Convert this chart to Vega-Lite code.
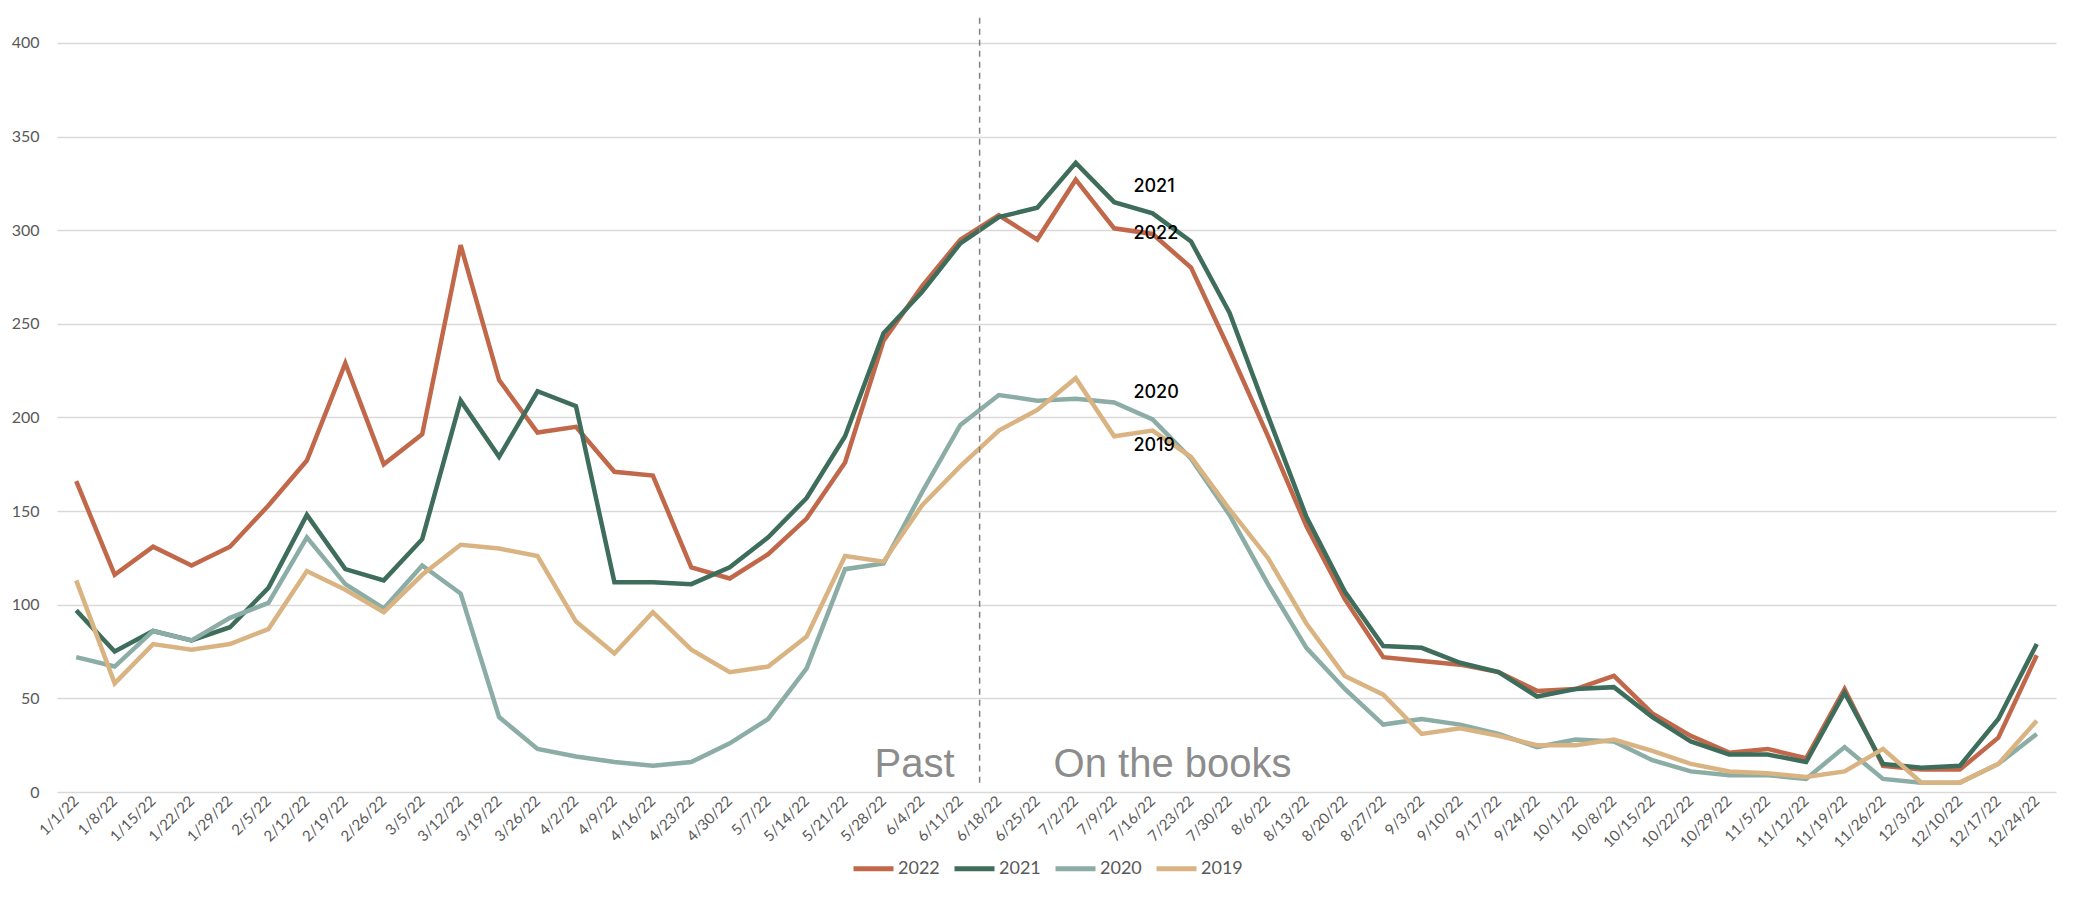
{
  "$schema": "https://vega.github.io/schema/vega-lite/v6.json",
  "width": 1999,
  "height": 779,
  "autosize": "none",
  "padding": {"left": 57, "top": 13, "right": 17, "bottom": 131},
  "background": "white",
  "config": {
    "view": {"stroke": null},
    "font": "Lato"
  },
  "datasets": {
    "weeks": [
      {"week": "1/1/22", "2022": 166, "2021": 97, "2020": 72, "2019": 113},
      {"week": "1/8/22", "2022": 116, "2021": 75, "2020": 67, "2019": 58},
      {"week": "1/15/22", "2022": 131, "2021": 86, "2020": 86, "2019": 79},
      {"week": "1/22/22", "2022": 121, "2021": 81, "2020": 81, "2019": 76},
      {"week": "1/29/22", "2022": 131, "2021": 88, "2020": 93, "2019": 79},
      {"week": "2/5/22", "2022": 153, "2021": 109, "2020": 101, "2019": 87},
      {"week": "2/12/22", "2022": 177, "2021": 148, "2020": 136, "2019": 118},
      {"week": "2/19/22", "2022": 229, "2021": 119, "2020": 111, "2019": 108},
      {"week": "2/26/22", "2022": 175, "2021": 113, "2020": 98, "2019": 96},
      {"week": "3/5/22", "2022": 191, "2021": 135, "2020": 121, "2019": 116},
      {"week": "3/12/22", "2022": 292, "2021": 209, "2020": 106, "2019": 132},
      {"week": "3/19/22", "2022": 220, "2021": 179, "2020": 40, "2019": 130},
      {"week": "3/26/22", "2022": 192, "2021": 214, "2020": 23, "2019": 126},
      {"week": "4/2/22", "2022": 195, "2021": 206, "2020": 19, "2019": 91},
      {"week": "4/9/22", "2022": 171, "2021": 112, "2020": 16, "2019": 74},
      {"week": "4/16/22", "2022": 169, "2021": 112, "2020": 14, "2019": 96},
      {"week": "4/23/22", "2022": 120, "2021": 111, "2020": 16, "2019": 76},
      {"week": "4/30/22", "2022": 114, "2021": 120, "2020": 26, "2019": 64},
      {"week": "5/7/22", "2022": 127, "2021": 136, "2020": 39, "2019": 67},
      {"week": "5/14/22", "2022": 146, "2021": 157, "2020": 66, "2019": 83},
      {"week": "5/21/22", "2022": 176, "2021": 190, "2020": 119, "2019": 126},
      {"week": "5/28/22", "2022": 241, "2021": 245, "2020": 122, "2019": 123},
      {"week": "6/4/22", "2022": 270, "2021": 267, "2020": 160, "2019": 153},
      {"week": "6/11/22", "2022": 295, "2021": 293, "2020": 196, "2019": 174},
      {"week": "6/18/22", "2022": 308, "2021": 307, "2020": 212, "2019": 193},
      {"week": "6/25/22", "2022": 295, "2021": 312, "2020": 209, "2019": 204},
      {"week": "7/2/22", "2022": 327, "2021": 336, "2020": 210, "2019": 221},
      {"week": "7/9/22", "2022": 301, "2021": 315, "2020": 208, "2019": 190},
      {"week": "7/16/22", "2022": 298, "2021": 309, "2020": 199, "2019": 193},
      {"week": "7/23/22", "2022": 280, "2021": 294, "2020": 178, "2019": 179},
      {"week": "7/30/22", "2022": 236, "2021": 256, "2020": 148, "2019": 151},
      {"week": "8/6/22", "2022": 190, "2021": 201, "2020": 111, "2019": 125},
      {"week": "8/13/22", "2022": 142, "2021": 147, "2020": 77, "2019": 90},
      {"week": "8/20/22", "2022": 103, "2021": 107, "2020": 55, "2019": 62},
      {"week": "8/27/22", "2022": 72, "2021": 78, "2020": 36, "2019": 52},
      {"week": "9/3/22", "2022": 70, "2021": 77, "2020": 39, "2019": 31},
      {"week": "9/10/22", "2022": 68, "2021": 69, "2020": 36, "2019": 34},
      {"week": "9/17/22", "2022": 64, "2021": 64, "2020": 31, "2019": 30},
      {"week": "9/24/22", "2022": 54, "2021": 51, "2020": 24, "2019": 25},
      {"week": "10/1/22", "2022": 55, "2021": 55, "2020": 28, "2019": 25},
      {"week": "10/8/22", "2022": 62, "2021": 56, "2020": 27, "2019": 28},
      {"week": "10/15/22", "2022": 42, "2021": 40, "2020": 17, "2019": 22},
      {"week": "10/22/22", "2022": 30, "2021": 27, "2020": 11, "2019": 15},
      {"week": "10/29/22", "2022": 21, "2021": 20, "2020": 9, "2019": 11},
      {"week": "11/5/22", "2022": 23, "2021": 20, "2020": 9, "2019": 10},
      {"week": "11/12/22", "2022": 18, "2021": 16, "2020": 7, "2019": 8},
      {"week": "11/19/22", "2022": 55, "2021": 53, "2020": 24, "2019": 11},
      {"week": "11/26/22", "2022": 14, "2021": 15, "2020": 7, "2019": 23},
      {"week": "12/3/22", "2022": 12, "2021": 13, "2020": 5, "2019": 5},
      {"week": "12/10/22", "2022": 12, "2021": 14, "2020": 5, "2019": 5},
      {"week": "12/17/22", "2022": 29, "2021": 39, "2020": 15, "2019": 15},
      {"week": "12/24/22", "2022": 73, "2021": 79, "2020": 31, "2019": 38}
    ],
    "divider": [{"week": "6/18/22", "lo": 5, "hi": 416}],
    "phase": [
      {"week": "6/18/22", "label": "Past", "v": 8, "side": "left"},
      {"week": "6/18/22", "label": "On the books", "v": 8, "side": "right"}
    ],
    "yearlabels": [
      {"week": "7/16/22", "label": "2021", "v": 323},
      {"week": "7/16/22", "label": "2022", "v": 298},
      {"week": "7/16/22", "label": "2020", "v": 213},
      {"week": "7/16/22", "label": "2019", "v": 185}
    ]
  },
  "encoding": {
    "x": {
      "field": "week",
      "type": "nominal",
      "sort": null,
      "scale": {"type": "band", "paddingInner": 0, "paddingOuter": 0},
      "axis": {
        "title": null,
        "domain": false,
        "ticks": false,
        "grid": false,
        "labelAngle": -45,
        "labelAlign": "right",
        "labelBaseline": "middle",
        "labelPadding": 6,
        "labelFontSize": 15,
        "labelColor": "#595959",
        "labelFont": "Lato"
      }
    }
  },
  "layer": [
    {
      "data": {"name": "weeks"},
      "transform": [{"fold": ["2022", "2021", "2020", "2019"], "as": ["year", "value"]}],
      "mark": {"type": "line", "strokeWidth": 4.5},
      "encoding": {
        "y": {
          "field": "value",
          "type": "quantitative",
          "scale": {"domain": [0, 416], "nice": false},
          "axis": {
            "title": null,
            "values": [0, 50, 100, 150, 200, 250, 300, 350, 400],
            "domain": false,
            "ticks": false,
            "grid": true,
            "gridColor": "#d9d9d9",
            "gridWidth": 1.5,
            "labelPadding": 18,
            "labelFontSize": 16,
            "labelColor": "#595959",
            "labelFont": "Lato"
          }
        },
        "color": {
          "field": "year",
          "type": "nominal",
          "scale": {
            "domain": ["2022", "2021", "2020", "2019"],
            "range": ["#C1674A", "#3E6D5B", "#8BADA6", "#D9B482"]
          },
          "legend": {
            "title": null,
            "orient": "none",
            "legendX": 794,
            "legendY": 833,
            "padding": 0,
            "direction": "horizontal",
            "symbolType": "stroke",
            "symbolSize": 1600,
            "symbolStrokeWidth": 5,
            "labelFontSize": 18,
            "labelColor": "#595959",
            "labelFont": "Lato",
            "labelOffset": 2,
            "columnPadding": 4
          }
        }
      }
    },
    {
      "data": {"name": "divider"},
      "mark": {"type": "rule", "color": "#808080", "strokeDash": [6, 5], "strokeWidth": 1.5},
      "encoding": {
        "x": {"field": "week", "type": "nominal", "sort": null, "bandPosition": 0},
        "y": {"field": "lo", "type": "quantitative"},
        "y2": {"field": "hi"}
      }
    },
    {
      "data": {"name": "phase"},
      "transform": [{"filter": "datum.side === 'left'"}],
      "mark": {"type": "text", "align": "right", "baseline": "alphabetic", "dx": -25, "font": "Liberation Sans", "fontSize": 40, "color": "#8c8c8c"},
      "encoding": {
        "x": {"field": "week", "type": "nominal", "sort": null, "bandPosition": 0},
        "y": {"field": "v", "type": "quantitative"},
        "text": {"field": "label"}
      }
    },
    {
      "data": {"name": "phase"},
      "transform": [{"filter": "datum.side === 'right'"}],
      "mark": {"type": "text", "align": "left", "baseline": "alphabetic", "dx": 74, "font": "Liberation Sans", "fontSize": 40, "color": "#8c8c8c"},
      "encoding": {
        "x": {"field": "week", "type": "nominal", "sort": null, "bandPosition": 0},
        "y": {"field": "v", "type": "quantitative"},
        "text": {"field": "label"}
      }
    },
    {
      "data": {"name": "yearlabels"},
      "mark": {"type": "text", "align": "left", "baseline": "middle", "font": "Inter", "fontSize": 18, "fontWeight": 500, "color": "#000000"},
      "encoding": {
        "x": {"field": "week", "type": "nominal", "sort": null, "bandPosition": 0},
        "y": {"field": "v", "type": "quantitative"},
        "text": {"field": "label"}
      }
    }
  ]
}
